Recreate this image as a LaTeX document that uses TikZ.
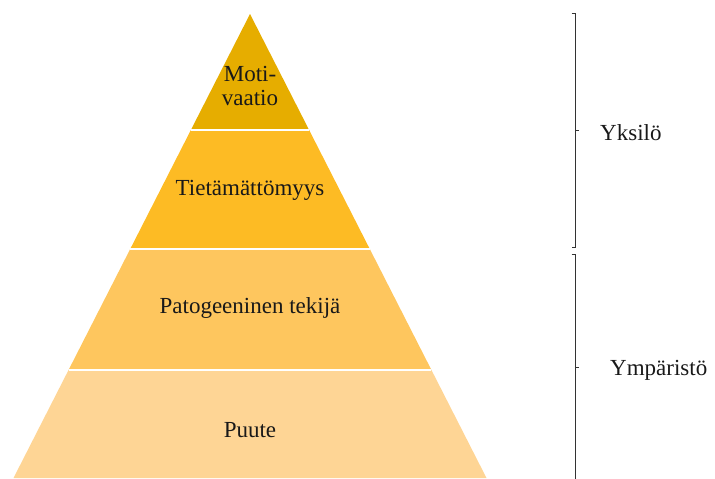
\documentclass[tikz,border=0pt]{standalone}
\usepackage{fontspec}
\setmainfont{Liberation Serif}
\usetikzlibrary{calc}

\definecolor{tierone}{HTML}{E6AD00}
\definecolor{tiertwo}{HTML}{FDBB24}
\definecolor{tierthree}{HTML}{FEC65E}
\definecolor{tierfour}{HTML}{FED595}

\begin{document}
\begin{tikzpicture}[x=1pt,y=-1pt,
			tiertext/.style={font=\fontsize{23}{24}\selectfont, align=center, text=black!90},
			sidetext/.style={font=\fontsize{23}{24}\selectfont, anchor=west, inner sep=0pt, text=black!90},
			gap/.style={draw=white, line width=2pt},
			bracket/.style={draw=black!80, line width=0.8pt},
			]
			\useasboundingbox (0,0) rectangle (715,479);
			%Pyramid
				\coordinate (apex)	at (250,14);
				\coordinate (bl)	at (13.5,478);
				\coordinate (br)	at (486.5,478);
				\fill[tierone]   (apex) -- ($(apex)!0.25!(br)$) -- ($(apex)!0.25!(bl)$) -- cycle;
				\fill[tiertwo]   ($(apex)!0.25!(bl)$) -- ($(apex)!0.25!(br)$) -- ($(apex)!0.5075!(br)$) -- ($(apex)!0.5075!(bl)$) -- cycle;
				\fill[tierthree] ($(apex)!0.5075!(bl)$) -- ($(apex)!0.5075!(br)$) -- ($(apex)!0.7662!(br)$) -- ($(apex)!0.7662!(bl)$) -- cycle;
				\fill[tierfour]  ($(apex)!0.7662!(bl)$) -- ($(apex)!0.7662!(br)$) -- (br) -- (bl) -- cycle;
				\draw[gap] ($(apex)!0.25!(bl)$) -- ($(apex)!0.25!(br)$);
				\draw[gap] ($(apex)!0.5075!(bl)$) -- ($(apex)!0.5075!(br)$);
				\draw[gap] ($(apex)!0.7662!(bl)$) -- ($(apex)!0.7662!(br)$);

			%Nodes
				\node[tiertext]	(motivaatio)	at (250,86)		{Moti-\\vaatio};
				\node[tiertext]	(tietamattomyys)	at (250,190)	{Tietämättömyys};
				\node[tiertext]	(patogeeninen)	at (250,308)	{Patogeeninen tekijä};
				\node[tiertext]	(puute)			at (250,430)	{Puute};
				\node[sidetext]	(yksilo)		at (600,133)	{Yksilö};
				\node[sidetext]	(ymparisto)		at (610,370)	{Ympäristö};

			%Brackets
				\draw[bracket] (571.5,13) -- (575,13) -- (575,247) -- (571.5,247);
				\draw[bracket] (575,130) -- (579,130);
				\draw[bracket] (571.5,254) -- (575,254) -- (575,480);
				\draw[bracket] (575,367) -- (579,367);
		\end{tikzpicture}
\end{document}
